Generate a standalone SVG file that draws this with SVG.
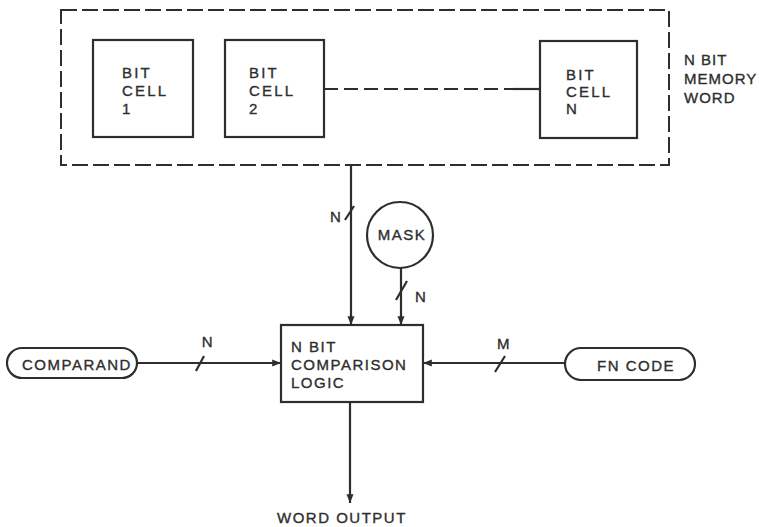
<svg xmlns="http://www.w3.org/2000/svg" width="759" height="527" viewBox="0 0 759 527">
<style>
  text { font-family: "Liberation Sans", Arial, sans-serif; font-size: 15px; fill: #2e2e2e; stroke: #2e2e2e; stroke-width: 0.35; letter-spacing: 1.5px; }
  .cell text { letter-spacing: 2.2px; }
  .side text { letter-spacing: 1px; }
  .box { fill: #ffffff; stroke: #2e2e2e; stroke-width: 2.2; }
  .ln { fill: none; stroke: #2e2e2e; stroke-width: 2.2; }
  .dash { fill: none; stroke: #2e2e2e; stroke-width: 2; stroke-dasharray: 16 5; }
  .mid { text-anchor: middle; }
</style>
<defs>
  <marker id="ah" viewBox="0 0 10 10" refX="10" refY="5" markerWidth="4" markerHeight="4" orient="auto" markerUnits="strokeWidth">
    <path d="M0,1 L10,5 L0,9 z" fill="#2e2e2e"/>
  </marker>
</defs>
<rect width="759" height="527" fill="#ffffff"/>

<g id="memory-word" class="side">
  <rect class="dash" x="61" y="10" width="608" height="155"/>
  <text x="684" y="65">N BIT</text>
  <text x="684" y="84">MEMORY</text>
  <text x="684" y="103">WORD</text>
</g>

<g id="bit-cell-1" class="cell">
  <rect class="box" x="93" y="40" width="100" height="97"/>
  <text x="122" y="78">BIT</text>
  <text x="122" y="96">CELL</text>
  <text x="122" y="114">1</text>
</g>

<g id="bit-cell-2" class="cell">
  <rect class="box" x="225" y="40" width="99" height="97"/>
  <text x="249" y="78">BIT</text>
  <text x="249" y="96">CELL</text>
  <text x="249" y="114">2</text>
</g>

<g id="bit-cell-n" class="cell">
  <rect class="box" x="540" y="41" width="97" height="97"/>
  <text x="566" y="80">BIT</text>
  <text x="566" y="97">CELL</text>
  <text x="566" y="114">N</text>
</g>

<g id="mask">
  <circle class="box" cx="400" cy="235" r="33"/>
  <text class="mid" x="402" y="240">MASK</text>
</g>

<g id="comparison-logic">
  <rect class="box" x="281" y="325" width="142" height="77"/>
  <text x="291" y="352">N BIT</text>
  <text x="291" y="370">COMPARISON</text>
  <text x="291" y="388">LOGIC</text>
</g>

<g id="comparand">
  <rect class="box" x="7" y="348" width="130" height="30" rx="15" ry="15"/>
  <text x="22" y="370">COMPARAND</text>
</g>

<g id="fn-code">
  <rect class="box" x="565" y="348" width="130" height="32" rx="16" ry="16"/>
  <text x="597" y="371">FN CODE</text>
</g>

<g id="word-output">
  <text x="277" y="523">WORD OUTPUT</text>
</g>

<g id="connectors">
  <line x1="324" y1="89" x2="515" y2="89" class="ln" stroke-dasharray="14 6"/>
  <line x1="513" y1="89" x2="540" y2="89" class="ln"/>
  <line x1="351" y1="165" x2="351" y2="325" class="ln" marker-end="url(#ah)"/>
  <line x1="345" y1="220" x2="354" y2="206" class="ln"/>
  <text x="330" y="222">N</text>
  <line x1="401" y1="268" x2="401" y2="325" class="ln" marker-end="url(#ah)"/>
  <line x1="396" y1="300" x2="407" y2="281" class="ln"/>
  <text x="415" y="302">N</text>
  <line x1="137" y1="363" x2="281" y2="363" class="ln" marker-end="url(#ah)"/>
  <line x1="196" y1="371" x2="204" y2="356" class="ln"/>
  <text class="mid" x="208" y="347">N</text>
  <line x1="565" y1="363" x2="423" y2="363" class="ln" marker-end="url(#ah)"/>
  <line x1="495" y1="372" x2="505" y2="356" class="ln"/>
  <text class="mid" x="504" y="349">M</text>
  <line x1="350" y1="402" x2="350" y2="503" class="ln" marker-end="url(#ah)"/>
</g>
</svg>
